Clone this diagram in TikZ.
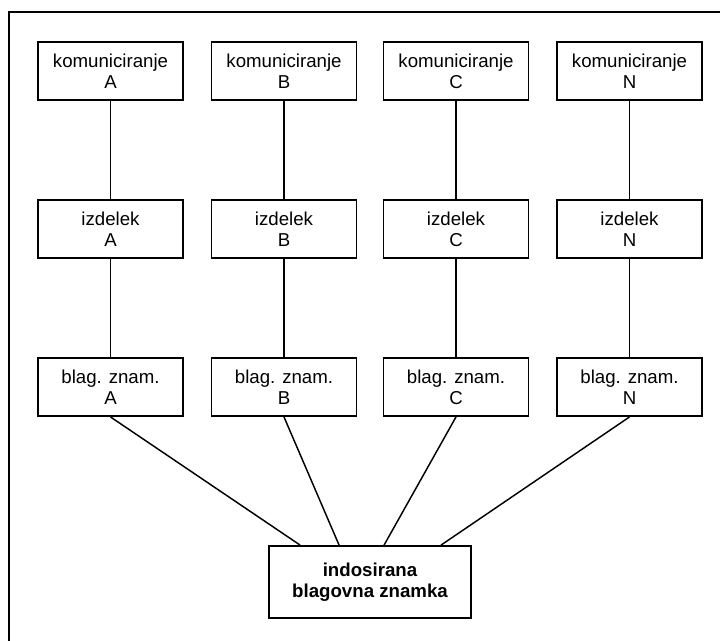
\documentclass[tikz,border=0pt]{standalone}
\usepackage{fontspec}
\setmainfont{Liberation Sans}
\begin{document}
\begin{tikzpicture}[x=0.75pt,y=-0.75pt,
  box/.style={draw,line width=1.4pt,rectangle,minimum width=108.75pt,minimum height=43.5pt,
    inner sep=0pt,align=center,font=\fontsize{14}{16}\selectfont},
  mainbox/.style={draw,line width=1.4pt,rectangle,minimum width=151.5pt,minimum height=54pt,
    inner sep=0pt,align=center,font=\fontsize{14}{16}\selectfont\bfseries},
  link/.style={line width=1.1pt}]
\useasboundingbox (0,0) rectangle (720,640);
% outer frame (runs past the right and bottom edges)
\draw[line width=1.4pt] (730,12) -- (9,12) -- (9,650);

% three rows of boxes, one column per brand
\foreach \c/\x in {A/110.5,B/284,C/456,N/629.5}{
  \node[box] (k\c) at (\x,71)  {komuniciranje\\\c};
  \node[box] (i\c) at (\x,229) {izdelek\\\c};
  \node[box] (b\c) at (\x,387) {blag. znam.\\\c};
  \draw[link] (k\c) -- (i\c);
  \draw[link] (i\c) -- (b\c);
}

\node[mainbox] (fin) at (370,582) {indosirana\\blagovna znamka};

\draw[link] (bA.south) -- ([xshift=24pt]fin.north west);
\draw[link] (bB.south) -- ([xshift=53.25pt]fin.north west);
\draw[link] (bC.south) -- ([xshift=87pt]fin.north west);
\draw[link] (bN.south) -- ([xshift=129.75pt]fin.north west);
\end{tikzpicture}
\end{document}
